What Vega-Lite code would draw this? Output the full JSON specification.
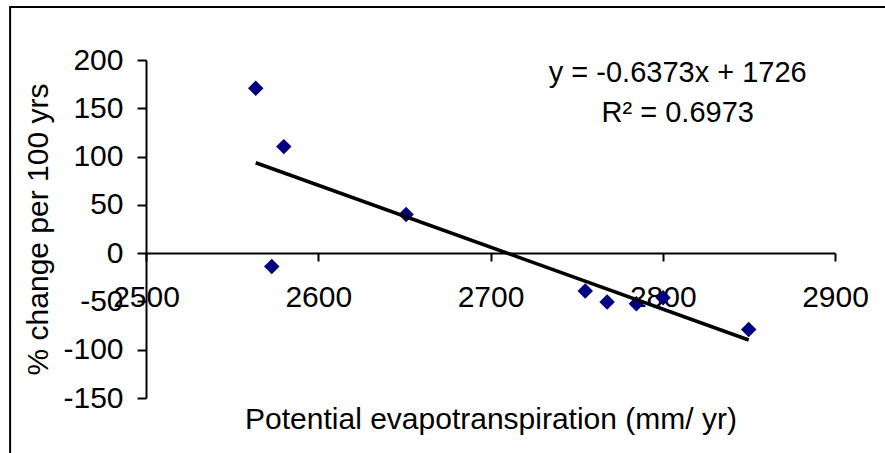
{
  "$schema": "https://vega.github.io/schema/vega-lite/v6.json",
  "width": 689,
  "height": 338,
  "autosize": {"type": "none"},
  "padding": {"left": 146, "top": 60, "right": 50, "bottom": 55},
  "background": "white",
  "config": {
    "view": {"stroke": null},
    "font": "Liberation Sans",
    "axis": {
      "grid": false,
      "labelFont": "Liberation Sans",
      "titleFont": "Liberation Sans",
      "labelFontSize": 30,
      "titleFontSize": 30,
      "titleFontWeight": "normal",
      "labelColor": "black",
      "titleColor": "black",
      "domainColor": "black",
      "tickColor": "black",
      "domainWidth": 2,
      "tickWidth": 2,
      "labelFlush": false,
      "labelOverlap": false,
      "labelExpr": "toString(datum.value)"
    }
  },
  "data": {
    "values": [
      {"pet": 2563.7, "change": 170.7},
      {"pet": 2580.0, "change": 110.3},
      {"pet": 2573.0, "change": -13.9},
      {"pet": 2651.0, "change": 40.0},
      {"pet": 2755.0, "change": -39.3},
      {"pet": 2767.7, "change": -50.7},
      {"pet": 2784.7, "change": -52.4},
      {"pet": 2800.2, "change": -46.2},
      {"pet": 2849.9, "change": -79.0}
    ]
  },
  "layer": [
    {
      "mark": {"type": "point", "shape": "diamond", "filled": true, "color": "#000080", "size": 240, "opacity": 1},
      "encoding": {
        "x": {
          "field": "pet",
          "type": "quantitative",
          "scale": {"domain": [2500, 2900], "nice": false, "zero": false},
          "axis": {
            "title": "Potential evapotranspiration (mm/ yr)",
            "values": [2500, 2600, 2700, 2800, 2900],
            "offset": -145,
            "tickSize": 8,
            "labelPadding": 21,
            "titlePadding": 92
          }
        },
        "y": {
          "field": "change",
          "type": "quantitative",
          "scale": {"domain": [-150, 200], "nice": false, "zero": false},
          "axis": {
            "title": "% change per 100 yrs",
            "values": [-150, -100, -50, 0, 50, 100, 150, 200],
            "tickSize": 9,
            "labelPadding": 14,
            "titlePadding": 9
          }
        }
      }
    },
    {
      "transform": [{"regression": "change", "on": "pet"}],
      "mark": {"type": "line", "color": "black", "strokeWidth": 3.5},
      "encoding": {
        "x": {"field": "pet", "type": "quantitative"},
        "y": {"field": "change", "type": "quantitative"}
      }
    },
    {
      "data": {"values": [{}]},
      "mark": {
        "type": "text",
        "text": ["y = -0.6373x + 1726", "R² = 0.6973"],
        "align": "center",
        "baseline": "alphabetic",
        "fontSize": 29,
        "lineHeight": 40,
        "color": "black",
        "font": "Liberation Sans"
      },
      "encoding": {
        "x": {"datum": 2808.7, "type": "quantitative"},
        "y": {"datum": 177.2, "type": "quantitative"}
      }
    },
    {
      "data": {"values": [{}]},
      "mark": {"type": "rect", "filled": false, "color": "black", "strokeWidth": 2, "clip": false},
      "encoding": {
        "x": {"datum": 2421.1, "type": "quantitative"},
        "x2": {"datum": 3000},
        "y": {"datum": 254.8, "type": "quantitative"},
        "y2": {"datum": -300}
      }
    }
  ]
}
